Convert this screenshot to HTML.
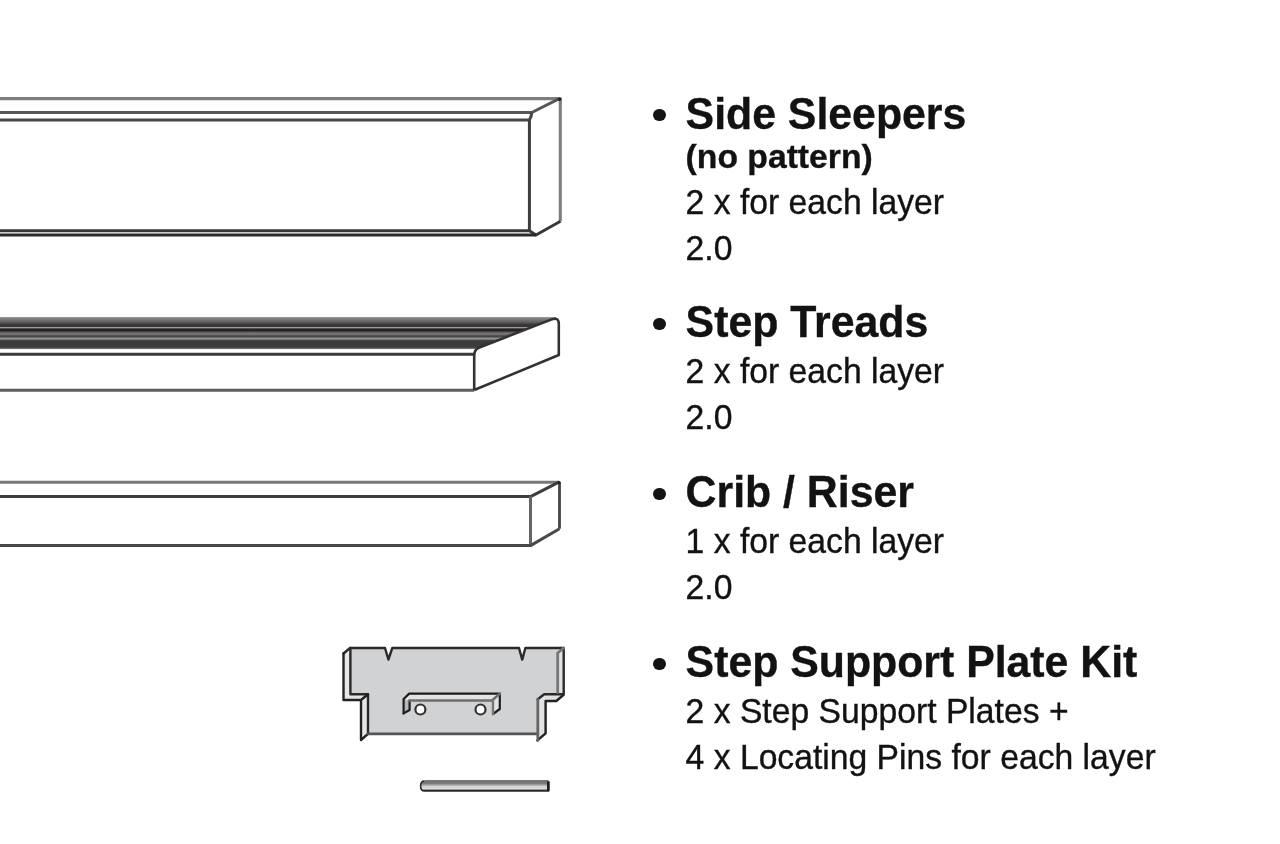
<!DOCTYPE html>
<html><head><meta charset="utf-8">
<style>
html,body{margin:0;padding:0;background:#fff;width:1280px;height:844px;overflow:hidden;}
body{position:relative;font-family:"Liberation Sans",sans-serif;color:#121212;}
svg{position:absolute;left:0;top:0;}
.t{position:absolute;white-space:nowrap;line-height:1;transform:scaleY(1.035);transform-origin:0 0.8465em;-webkit-text-stroke:0.35px #121212;filter:blur(0.3px);}
.h{font-weight:bold;font-size:42.8px;}
.s{font-size:33.7px;}
.sb{font-weight:bold;font-size:33.7px;transform:none;}
.bul{position:absolute;width:12.8px;height:12.8px;border-radius:50%;background:#141414;filter:blur(0.6px);}
</style></head><body>
<svg width="1280" height="844" viewBox="0 0 1280 844">
<defs>
<linearGradient id="tread" gradientUnits="userSpaceOnUse" x1="0" y1="316.6" x2="0" y2="350">
<stop offset="0" stop-color="#ffffff"/>
<stop offset="0.03" stop-color="#8a8a8a"/>
<stop offset="0.09" stop-color="#777777"/>
<stop offset="0.18" stop-color="#5a5858"/>
<stop offset="0.24" stop-color="#393536"/>
<stop offset="0.30" stop-color="#3a3637"/>
<stop offset="0.33" stop-color="#ababab"/>
<stop offset="0.37" stop-color="#222021"/>
<stop offset="0.42" stop-color="#252324"/>
<stop offset="0.47" stop-color="#5e5e5e"/>
<stop offset="0.52" stop-color="#7c7c7c"/>
<stop offset="0.59" stop-color="#404040"/>
<stop offset="0.665" stop-color="#9c9c9c"/>
<stop offset="0.72" stop-color="#3c3a3a"/>
<stop offset="0.90" stop-color="#3b3b3b"/>
<stop offset="0.95" stop-color="#5a5a5a"/>
<stop offset="1" stop-color="#ffffff"/>
</linearGradient>
<linearGradient id="pinG" gradientUnits="userSpaceOnUse" x1="0" y1="780" x2="0" y2="792">
<stop offset="0" stop-color="#8a8a8a"/>
<stop offset="0.25" stop-color="#6e6e6e"/>
<stop offset="0.55" stop-color="#d6d6d8"/>
<stop offset="0.75" stop-color="#dcdcde"/>
<stop offset="0.85" stop-color="#333"/>
<stop offset="1" stop-color="#222"/>
</linearGradient>
<filter id="bl" x="-5%" y="-5%" width="110%" height="110%"><feGaussianBlur stdDeviation="0.45"/></filter>
</defs>
<g filter="url(#bl)">
<!-- Side sleepers -->
<g fill="none" stroke-linejoin="round">
<path d="M0,98.6 H560.3 V221.3" stroke="#7e7e7e" stroke-width="3.1"/>
<path d="M0,112.5 H531.8 L558.8,98.8" stroke="#575757" stroke-width="3.0"/>
<path d="M0,120.1 H529.4 Q531.5,116 531.8,112.5" stroke="#464646" stroke-width="3.0"/>
<path d="M529.4,120 V231" stroke="#3d3d3d" stroke-width="3.0"/>
<circle cx="559.6" cy="99.2" r="1.8" fill="#222"/>
<path d="M0,230.8 H529.4 L536,235 L560.5,221.3" stroke="#383838" stroke-width="3.0"/>
<path d="M0,235 H536" stroke="#2c2c2c" stroke-width="3.0"/>
</g>
<!-- Step treads -->
<rect x="0" y="316.6" width="556" height="33.4" fill="url(#tread)"/>
<path d="M474.2,356 Q474.2,349.6 478.8,347.8 L551.8,319.4 Q558.8,316.8 558.8,324 V355 L474.2,390 Z" fill="#fff" stroke="none"/>
<rect x="0" y="349.2" width="476" height="2.5" fill="#fff"/>
<g fill="none" stroke-linejoin="round">
<path d="M0,354.2 H474.2" stroke="#3a3a3a" stroke-width="3.1"/>
<path d="M0,390.2 H474.2" stroke="#5e5e5e" stroke-width="2.9"/>
<path d="M474.2,390 V356 Q474.2,349.6 478.8,347.8 L551.8,319.4 Q558.8,316.8 558.8,324 V355 L474.2,390" stroke="#333" stroke-width="2.6"/>
</g>
<!-- Crib riser -->
<g fill="none" stroke-linejoin="round">
<path d="M0,482.2 H559.5" stroke="#777" stroke-width="3.0"/>
<path d="M0,496.4 H531 L558.9,482.2" stroke="#3e3e3e" stroke-width="3.0"/>
<path d="M530.5,496.4 V545.6" stroke="#666" stroke-width="3.0"/>
<path d="M559.5,482.2 V528.7" stroke="#444" stroke-width="2.8"/><circle cx="559" cy="482.6" r="1.7" fill="#222"/>
<path d="M0,545.6 H530.5 L559.5,528.7" stroke="#4a4a4a" stroke-width="3.0"/>
</g>
<!-- Step support plate -->
<path d="M350,648 H385 L388.4,659.5 L392.3,648 H519 L522.2,659.6 L525.4,648 H563.7 V694.2 H544.2 L537.8,699.2 V734 H368 V694.3 H350 Z" fill="#d1d2d4" stroke="none"/>
<path d="M563.7,648 L557.7,653 V699.5 L563.7,694.2 Z" fill="#e2e2e3"/>
<path d="M544.2,694.2 H563.7 L556.3,701 H545.6 V733.3 L537.4,740.4 L537.8,699.2 Z" fill="#e2e2e3"/>
<path d="M350,648 L343.5,653.5 V700 H361 V740 L368,733.8 V694.3 H350 Z" fill="#e6e6e6"/>
<g fill="none" stroke-linejoin="round" stroke-linecap="round">
<path d="M343.5,653.5 L350,648 H385 L388.4,659.5 L392.3,648 H519 L522.2,659.6 L525.4,648 H563.7 V694.2 H544.2 L537.8,699.2" stroke="#2a2a2a" stroke-width="2.4"/>
<path d="M350.4,648 V694.3 H368 V733.8" stroke="#2a2a2a" stroke-width="2.4"/>
<path d="M343.5,653.5 V700 H361 V740 L368,733.8 M368,694.3 L361,700" stroke="#222" stroke-width="2.4"/>
<path d="M368,733.8 H537.8" stroke="#555" stroke-width="2.8"/>
<path d="M563.7,648 L557.7,653 V692.6" stroke="#777" stroke-width="2.8"/>
<path d="M563.4,695 L556.3,701 H545.6 V733.3 L537.4,740.4" stroke="#222" stroke-width="2.4"/>
<path d="M537.8,699.2 V740.4" stroke="#666" stroke-width="2.8"/>
</g>
<!-- slot -->
<path d="M409.2,693.6 H499.8 V709 L493,714 V700.5 H409.6 V710 L403.6,713.4 V699 Z" fill="#e4e4e4"/>
<path d="M403.6,699 L409.6,700.5 V710 L403.6,713.4 Z" fill="#b8b8b8"/>
<g fill="none" stroke-linejoin="round" stroke-linecap="round">
<path d="M403.6,713.4 V699 L409.2,693.6 H499.8 V709 L493,714" stroke="#1e1e1e" stroke-width="2.2"/>
<path d="M409.6,700.5 V710 L403.6,713.4" stroke="#1e1e1e" stroke-width="2.2"/>
<path d="M409.6,700.5 H492 L499.8,693.6" stroke="#6e6e6e" stroke-width="2.6"/>
<path d="M493,700.5 V714" stroke="#777" stroke-width="2.4"/>
</g>
<circle cx="420.4" cy="709.5" r="5" fill="#fff" stroke="#333" stroke-width="2.2"/>
<circle cx="480.5" cy="709.5" r="5" fill="#fff" stroke="#333" stroke-width="2.2"/>
<!-- pin -->
<path d="M424.5,781 H548.5 V791 H424.5 Q420.6,791 420.6,786 Q420.6,781 424.5,781 Z" fill="url(#pinG)"/>
<path d="M424.5,781 Q420.6,781 420.6,786 Q420.6,791 424.5,791 H548.5 V781" fill="none" stroke="#2a2a2a" stroke-width="1.6"/>
<path d="M424.5,781 H548.5" fill="none" stroke="#777" stroke-width="2"/>
<path d="M548.3,781.5 V790.8" fill="none" stroke="#1a1a1a" stroke-width="2.6"/>
</g>
</svg>
<div class="bul" style="left:653.30px;top:108.60px"></div>
<div class="t h" style="left:685.6px;top:92.57px">Side Sleepers</div>
<div class="t sb" style="left:685.6px;top:139.57px">(no pattern)</div>
<div class="t s" style="left:685.6px;top:186.37px">2 x for each layer</div>
<div class="t s" style="left:685.6px;top:232.37px">2.0</div>
<div class="bul" style="left:653.30px;top:317.50px"></div>
<div class="t h" style="left:685.6px;top:301.47px">Step Treads</div>
<div class="t s" style="left:685.6px;top:355.17px">2 x for each layer</div>
<div class="t s" style="left:685.6px;top:401.37px">2.0</div>
<div class="bul" style="left:653.30px;top:487.50px"></div>
<div class="t h" style="left:685.6px;top:471.47px">Crib / Riser</div>
<div class="t s" style="left:685.6px;top:525.17px">1 x for each layer</div>
<div class="t s" style="left:685.6px;top:571.37px">2.0</div>
<div class="bul" style="left:653.30px;top:657.50px"></div>
<div class="t h" style="left:685.6px;top:641.47px">Step Support Plate Kit</div>
<div class="t s" style="left:685.6px;top:695.17px">2 x Step Support Plates +</div>
<div class="t s" style="left:685.6px;top:740.77px">4 x Locating Pins for each layer</div>
</body></html>
